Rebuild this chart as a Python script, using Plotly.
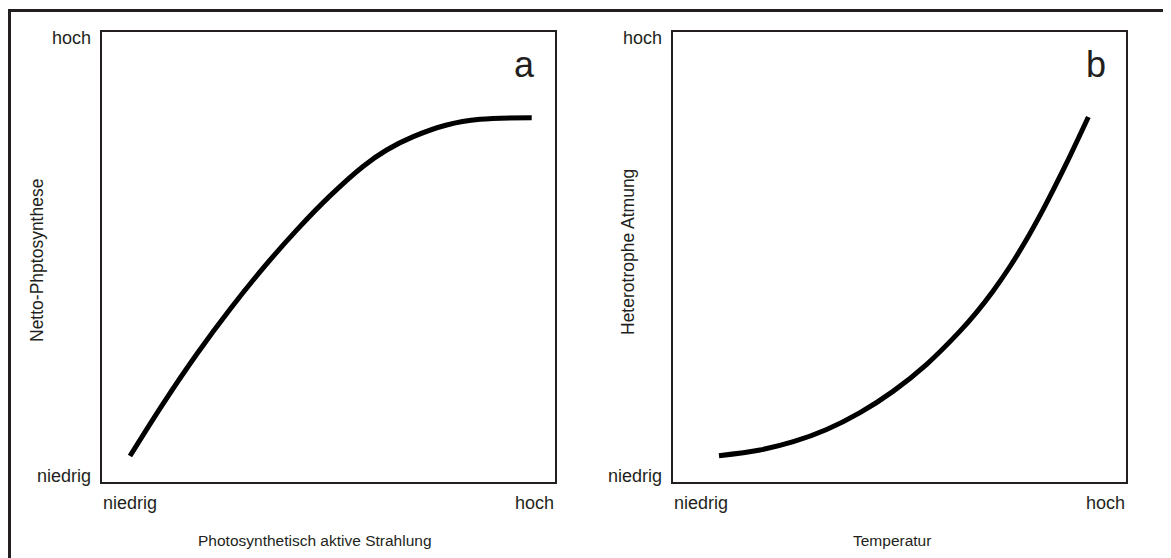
import plotly.graph_objects as go

# Panel a: Netto-Photosynthese vs. PAR (relative units 0-10)
a_x = [0.629, 1.365, 2.101, 2.837, 3.572, 4.308, 5.044, 5.780, 6.295, 6.883, 7.620, 8.355, 9.497]
a_y = [0.567, 1.737, 2.827, 3.827, 4.747, 5.587, 6.347, 7.007, 7.367, 7.663, 7.922, 8.049, 8.084]

# Panel b: Heterotrophe Atmung vs. Temperatur
b_x = [1.026, 1.932, 2.667, 3.403, 4.139, 4.875, 5.611, 6.347, 6.715, 7.082, 7.450, 7.818,
       8.186, 8.407, 8.701, 9.180]
b_y = [0.574, 0.700, 0.884, 1.156, 1.531, 2.009, 2.605, 3.341, 3.764, 4.241, 4.778, 5.382,
       6.052, 6.485, 7.079, 8.100]

tick_labels = ["niedrig", "hoch"]
panel_letters = ["a", "b"]
x_titles = ["Photosynthetisch aktive Strahlung", "Temperatur"]
y_titles = ["Netto-Phptosynthese", "Heterotrophe Atmung"]

OFF = 8  # page body margin
W, H = 1171 - OFF, 558 - OFF
FONT = "Liberation Sans, Arial, Helvetica, sans-serif"
TXT = "#231f20"


def px(x):
    return (x - OFF) / W


def py(y):
    return 1 - (y - OFF) / H


fig = go.Figure()
fig.add_trace(go.Scatter(x=a_x, y=a_y, mode="lines", xaxis="x", yaxis="y",
                         line=dict(color="black", width=5, shape="spline", smoothing=1.0),
                         showlegend=False, hoverinfo="skip"))
fig.add_trace(go.Scatter(x=b_x, y=b_y, mode="lines", xaxis="x2", yaxis="y2",
                         line=dict(color="black", width=5, shape="spline", smoothing=1.0),
                         showlegend=False, hoverinfo="skip"))

ydom = [py(481.5), py(31.5)]
xdom_a = [px(101.5), px(554.5)]
xdom_b = [px(672.5), px(1125.5)]

ax_common = dict(range=[0, 10], showgrid=False, zeroline=False, showticklabels=False,
                 ticks="", showline=True, mirror=True, linewidth=2, linecolor=TXT,
                 fixedrange=True)

fig.update_layout(
    width=W, height=H,
    margin=dict(l=0, r=0, t=0, b=0),
    paper_bgcolor="white", plot_bgcolor="white",
    font=dict(family=FONT, color=TXT),
    xaxis=dict(domain=xdom_a, anchor="y", **ax_common),
    yaxis=dict(domain=ydom, anchor="x", **ax_common),
    xaxis2=dict(domain=xdom_b, anchor="y2", **ax_common),
    yaxis2=dict(domain=ydom, anchor="x2", **ax_common),
)

TICK = 18
ann = []
for i, (xr, yr) in enumerate([("x", "y"), ("x2", "y2")]):
    xd, yd = xr + " domain", yr + " domain"
    # y tick labels
    ann.append(dict(xref=xd, yref=yd, x=0, y=1, text=tick_labels[1], showarrow=False,
                    xanchor="right", yanchor="top", xshift=-9, yshift=6,
                    font=dict(size=TICK)))
    ann.append(dict(xref=xd, yref=yd, x=0, y=0, text=tick_labels[0], showarrow=False,
                    xanchor="right", yanchor="bottom", xshift=-9, yshift=-6,
                    font=dict(size=TICK)))
    # x tick labels
    ann.append(dict(xref=xd, yref=yd, x=0, y=0, text=tick_labels[0], showarrow=False,
                    xanchor="left", yanchor="top", xshift=-1, yshift=-9,
                    font=dict(size=TICK)))
    ann.append(dict(xref=xd, yref=yd, x=1, y=0, text=tick_labels[1], showarrow=False,
                    xanchor="right", yanchor="top", xshift=1, yshift=-9,
                    font=dict(size=TICK)))
    # panel letter
    ann.append(dict(xref=xd, yref=yd, x=1, y=1, text=panel_letters[i], showarrow=False,
                    xanchor="center", yanchor="middle", xshift=-30, yshift=-33,
                    font=dict(size=36)))

# axis titles
ann.append(dict(xref="paper", yref="paper", x=px(315), y=py(540), text=x_titles[0],
                showarrow=False, xanchor="center", yanchor="middle", font=dict(size=15.5)))
ann.append(dict(xref="paper", yref="paper", x=px(892), y=py(540), text=x_titles[1],
                showarrow=False, xanchor="center", yanchor="middle", font=dict(size=15.5)))
ann.append(dict(xref="paper", yref="paper", x=px(37), y=py(261), text=y_titles[0],
                showarrow=False, textangle=-90, xanchor="center", yanchor="middle",
                font=dict(size=17.5)))
ann.append(dict(xref="paper", yref="paper", x=px(628), y=py(252), text=y_titles[1],
                showarrow=False, textangle=-90, xanchor="center", yanchor="middle",
                font=dict(size=17.5)))
fig.update_layout(annotations=ann)

# outer frame (top and left edges visible)
fig.add_shape(type="line", xref="paper", yref="paper", x0=px(8), x1=1, y0=py(10.5),
              y1=py(10.5), line=dict(color=TXT, width=3))
fig.add_shape(type="line", xref="paper", yref="paper", x0=px(9.5), x1=px(9.5), y0=0,
              y1=py(9), line=dict(color=TXT, width=3))

fig.write_html("out.html")
